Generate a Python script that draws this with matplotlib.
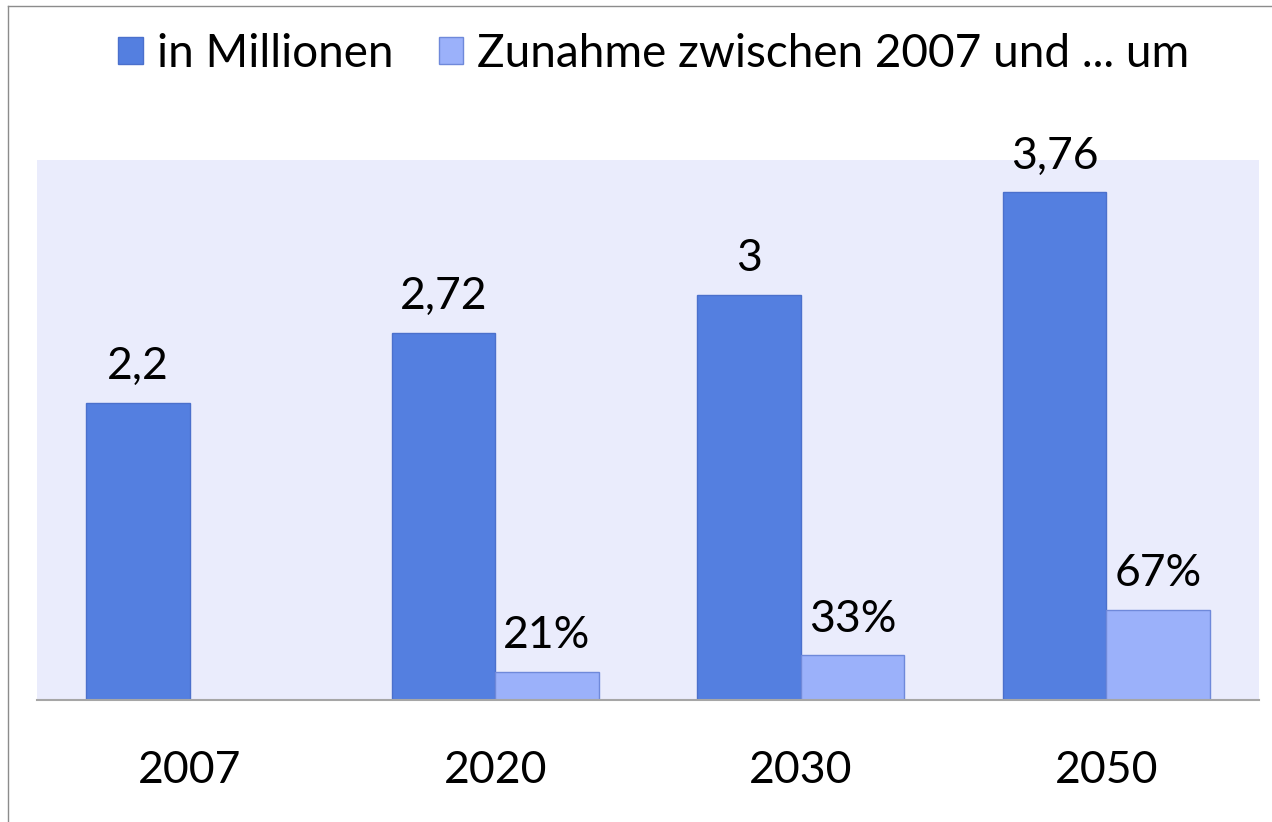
import matplotlib
matplotlib.use("Agg")
import matplotlib.pyplot as plt
from matplotlib.patches import Patch
from matplotlib.lines import Line2D
import numpy as np

plt.rcParams['font.family'] = ['Lato', 'DejaVu Sans']

categories = ["2007", "2020", "2030", "2050"]
millionen = [2.2, 2.72, 3.0, 3.76]
zunahme_pct = [np.nan, 21, 33, 67]
series_names = ["in Millionen", "Zunahme zwischen 2007 und ... um"]

dark = "#547FE0"
dark_edge = "#4B70CC"
light = "#9BB1FA"
light_edge = "#6F89DA"
bg = "#EAECFC"

fig = plt.figure(figsize=(12.72, 8.22), dpi=100)
ax = fig.add_axes([37/1272, 1-700/822, (1259-37)/1272, (700-160)/822])
ax.set_facecolor(bg)

x = np.arange(len(categories))
w = 0.338
zun = np.array(zunahme_pct, dtype=float) / 100.0

b1 = ax.bar(x - w/2, millionen, w, color=dark, edgecolor=dark_edge, linewidth=1.0, zorder=2)
b2 = ax.bar(x + w/2, np.nan_to_num(zun), w, color=light, edgecolor=light_edge, linewidth=1.0, zorder=2)
for i, bar in enumerate(b2):
    if np.isnan(zun[i]):
        bar.set_visible(False)

fs = 32
for bar, v in zip(b1, millionen):
    ax.annotate(f"{v:g}".replace('.', ','), (bar.get_x() + bar.get_width()/2, bar.get_height()),
                xytext=(0, 17), textcoords="offset points", ha="center", va="baseline",
                fontsize=fs, color="black")
for bar, v in zip(b2, zunahme_pct):
    if np.isnan(v):
        continue
    ax.annotate(f"{v:g}%", (bar.get_x() + bar.get_width()/2, bar.get_height()),
                xytext=(0, 17), textcoords="offset points", ha="center", va="baseline",
                fontsize=fs, color="black")

ax.set_xlim(-0.5, len(categories) - 0.5)
ax.set_ylim(0, 4.0)
ax.set_yticks([])
ax.set_xticks(x)
ax.set_xticklabels(categories, fontsize=fs)
ax.tick_params(axis='x', length=0, pad=36)
for s in ["top", "right", "left"]:
    ax.spines[s].set_visible(False)
ax.spines["bottom"].set_color("#A6A6A6")
ax.spines["bottom"].set_linewidth(1.5)

handles = [Patch(facecolor=dark, edgecolor=dark_edge), Patch(facecolor=light, edgecolor=light_edge)]
fig.legend(handles, series_names, loc="center", bbox_to_anchor=(0.514, 1-54/822), ncol=2,
           frameon=False, fontsize=33, handlelength=0.53, handleheight=0.53,
           handletextpad=0.3, columnspacing=1.0)

# outer frame (top and left)
fig.add_artist(Line2D([8/1272, 1], [1-6/822, 1-6/822], transform=fig.transFigure, color="#8C8C8C", lw=1.0))
fig.add_artist(Line2D([8/1272, 8/1272], [0, 1-6/822], transform=fig.transFigure, color="#8C8C8C", lw=1.0))

fig.savefig("out.png", dpi=100, facecolor="white")
